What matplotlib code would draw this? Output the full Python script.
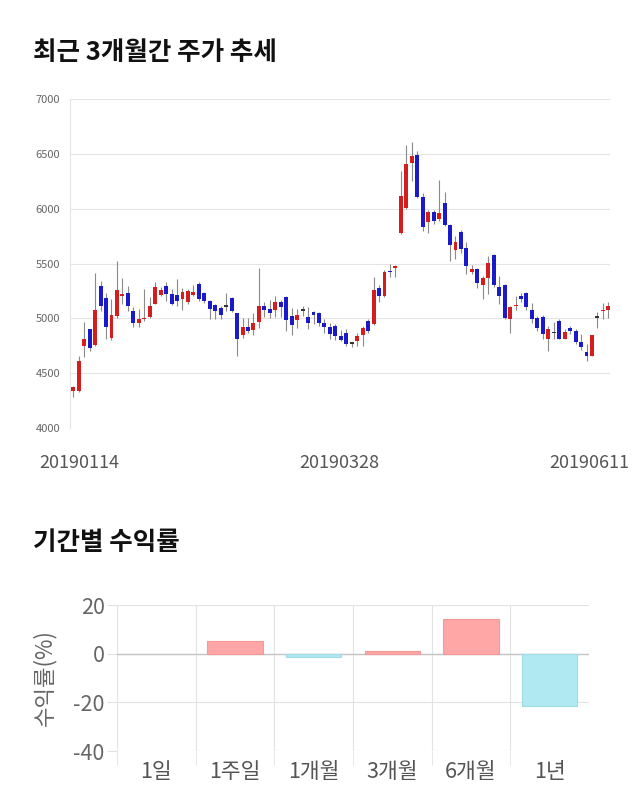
import matplotlib
matplotlib.use("Agg")
import matplotlib.pyplot as plt
import numpy as np

plt.rcParams['font.family'] = ['Noto Sans CJK KR', 'DejaVu Sans']

# ---- candlestick data (KRW) ----
opens = [4340, 4340, 4750, 4900, 4760, 5295, 5185, 4825, 5025, 5205,
         5230, 5070, 4955, 4990, 5010, 5135, 5215, 5295, 5220, 5210,
         5175, 5145, 5210, 5310, 5230, 5155, 5120, 5095, 5105, 5185,
         5045, 4845, 4925, 4890, 4970, 5110, 5085, 5075, 5150, 5190,
         5020, 4985, 5068, 5015, 5060, 5045, 4955, 4925, 4930, 4840,
         4870, 4767, 4790, 4850, 4975, 4950, 5275, 5200, 5435, 5455,
         5775, 6010, 6420, 6485, 6110, 5880, 5970, 5905, 6050, 5850,
         5620, 5790, 5645, 5425, 5450, 5305, 5365, 5575, 5290, 5305,
         4995, 5110, 5205, 5235, 5080, 5000, 5015, 4815, 4863, 4975,
         4815, 4915, 4885, 4780, 4690, 4655, 5005, 5065, 5080]
closes = [4370, 4610, 4810, 4725, 5080, 5110, 4925, 5030, 5255, 5220,
          5115, 4955, 4990, 5005, 5115, 5285, 5255, 5220, 5135, 5155,
          5240, 5245, 5240, 5175, 5155, 5085, 5068, 5030, 5105, 5070,
          4815, 4925, 4880, 4955, 5110, 5075, 5045, 5150, 5100, 4985,
          4940, 5030, 5068, 4955, 5030, 4955, 4920, 4855, 4840, 4805,
          4770, 4767, 4835, 4910, 4885, 5260, 5200, 5420, 5418, 5478,
          6115, 6410, 6480, 6110, 5835, 5970, 5890, 5965, 5850, 5665,
          5700, 5635, 5475, 5450, 5320, 5365, 5505, 5305, 5205, 5000,
          5105, 5115, 5175, 5100, 4995, 4915, 4855, 4905, 4863, 4815,
          4875, 4885, 4780, 4735, 4655, 4845, 5005, 5080, 5110]
highs = [4380, 4660, 4970, 4905, 5410, 5340, 5235, 5180, 5525, 5365,
         5295, 5100, 5085, 5270, 5195, 5335, 5290, 5335, 5270, 5355,
         5280, 5265, 5300, 5335, 5240, 5170, 5130, 5110, 5235, 5195,
         5050, 5005, 5000, 5047, 5455, 5145, 5170, 5200, 5165, 5200,
         5090, 5085, 5110, 5100, 5070, 5055, 4990, 4955, 4950, 4890,
         4900, 4785, 4870, 4930, 4995, 5375, 5300, 5445, 5495, 5485,
         6340, 6585, 6605, 6525, 6140, 5985, 5985, 6265, 6150, 5860,
         5750, 5810, 5700, 5485, 5460, 5390, 5565, 5585, 5390, 5310,
         5115, 5205, 5230, 5240, 5140, 5020, 5030, 4930, 4965, 4990,
         4905, 4930, 4900, 4855, 4765, 4850, 5060, 5140, 5150]
lows = [4280, 4330, 4650, 4700, 4750, 5070, 4810, 4800, 5000, 5130,
        5070, 4925, 4925, 4980, 5000, 5130, 5200, 5160, 5120, 5115,
        5080, 5130, 5200, 5160, 5140, 4990, 4990, 4990, 5068, 5055,
        4660, 4825, 4870, 4845, 4915, 5010, 5000, 5010, 5010, 4885,
        4845, 4915, 5020, 4905, 4945, 4930, 4870, 4810, 4805, 4795,
        4750, 4740, 4745, 4750, 4870, 4940, 5145, 5195, 5375, 5375,
        5770, 6000, 6250, 6100, 5795, 5780, 5860, 5890, 5840, 5525,
        5545, 5600, 5405, 5405, 5280, 5180, 5220, 5290, 5130, 4995,
        4865, 5080, 5150, 5075, 4960, 4885, 4810, 4700, 4810, 4810,
        4810, 4855, 4765, 4715, 4610, 4655, 4915, 4990, 5000]
date_labels = ['20190114', '20190328', '20190611']
price_ticks = [4000, 4500, 5000, 5500, 6000, 6500, 7000]

# ---- period returns (%) ----
periods = ['1일', '1주일', '1개월', '3개월', '6개월', '1년']
returns = [0.0, 5.3, -1.3, 1.0, 14.3, -21.6]

fig = plt.figure(figsize=(6.4, 8.1), dpi=100)

# titles
fig.text(33/640, 1-52/810, '최근 3개월간 주가 추세', fontsize=18.4, fontweight='bold',
         color='#111111', ha='left', va='center')
fig.text(33/640, 1-543/810, '기간별 수익률', fontsize=18.4, fontweight='bold',
         color='#111111', ha='left', va='center')

# ---- candlestick chart ----
ax1 = fig.add_axes([70/640, 1-428/810, 540/640, 329/810])
n = len(opens)
x = np.arange(n)
o = np.array(opens); c = np.array(closes); h = np.array(highs); l = np.array(lows)
cols = np.where(c > o, '#d41e1e', np.where(c < o, '#1a1acb', '#333333'))
ax1.vlines(x, l, h, color='#8a8a8a', linewidth=0.8, zorder=2)
body_bottom = np.minimum(o, c)
body_h = np.maximum(np.abs(c - o), 14)
ax1.bar(x, body_h, bottom=body_bottom, width=0.72, color=cols, linewidth=0, zorder=3)

ax1.set_xlim(-0.6, 98.3)
ax1.set_ylim(4000, 7000)
ax1.set_yticks(price_ticks)
ax1.set_yticklabels([str(t) for t in price_ticks])
ax1.grid(axis='y', color='#e4e4e4', linewidth=0.8)
ax1.set_axisbelow(True)
for s in ['top', 'right', 'bottom']:
    ax1.spines[s].set_visible(False)
ax1.spines['left'].set_color('#e4e4e4')
ax1.tick_params(axis='y', length=0, labelsize=8, labelcolor='#666666', pad=7)
ax1.set_xticks([1.2, 48.8, 94.5])
ax1.set_xticklabels(date_labels)
ax1.tick_params(axis='x', length=0, labelsize=13, labelcolor='#555555', pad=19)

# ---- returns bar chart ----
ax2 = fig.add_axes([117/640, 1-751/810, 472/640, 146/810])
xb = np.arange(len(periods))
bcol = ['#ffa6a6' if v >= 0 else '#b0e9f2' for v in returns]
ecol = [('#f49898' if v > 0 else '#9ddbe6') if v != 0 else 'none' for v in returns]
ax2.bar(xb, returns, width=0.7, color=bcol, edgecolor=ecol, linewidth=0.8, zorder=3)
ax2.set_xlim(-0.5, len(periods) - 0.5)
ax2.set_ylim(-40, 20)
ax2.set_yticks([-40, -20, 0, 20])
ax2.set_yticklabels(['-40', '-20', '0', '20'])
ax2.set_xticks(xb)
ax2.set_xticklabels(periods)
ax2.set_xticks(np.arange(len(periods)) - 0.5, minor=True)
ax2.grid(axis='y', color='#e2e2e2', linewidth=0.8)
ax2.grid(axis='x', which='minor', color='#e2e2e2', linewidth=0.8)
ax2.axhline(0, color='#c4c4c4', linewidth=1.0, zorder=2)
ax2.set_axisbelow(True)
for s in ['top', 'right', 'left', 'bottom']:
    ax2.spines[s].set_visible(False)
ax2.tick_params(axis='y', length=7, color='#e2e2e2', labelsize=15.5, labelcolor='#666666', pad=2)
ax2.tick_params(axis='x', which='major', length=0, labelsize=15.5, labelcolor='#555555', pad=7)
ax2.tick_params(axis='x', which='minor', length=10, color='#e2e2e2')
ax2.set_ylabel('수익률(%)', fontsize=16, color='#666666', labelpad=12)

fig.savefig('out.png', dpi=100)
